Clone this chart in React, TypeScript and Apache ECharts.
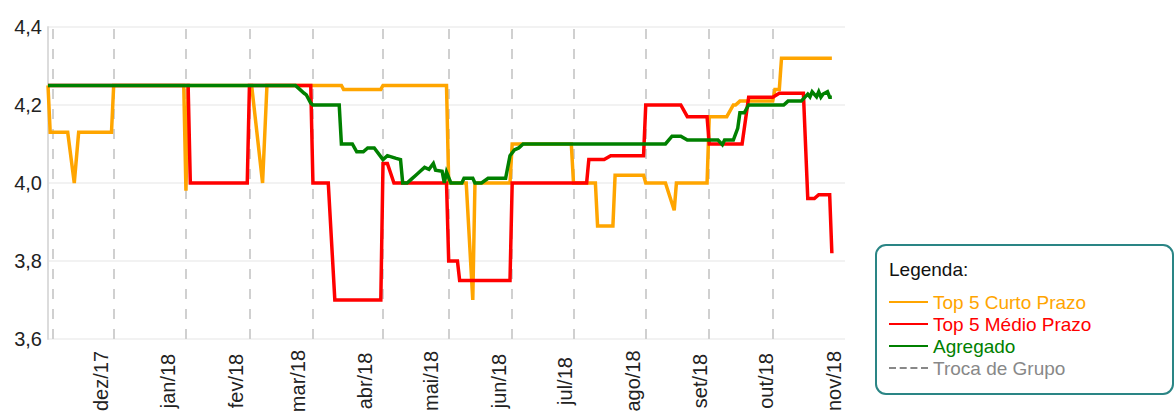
import React, { useEffect, useRef } from 'react';
import * as echarts from 'echarts';

// ---- Data ----
const curtoDates = [
  '2017-11-07', '2017-11-08', '2017-11-16', '2017-11-19', '2017-11-21', '2017-12-06', '2017-12-07',
  '2018-01-08', '2018-01-09', '2018-01-10', '2018-02-08', '2018-02-13', '2018-02-15',
  '2018-03-21', '2018-03-22', '2018-04-08', '2018-04-09', '2018-05-08', '2018-05-09',
  '2018-05-17', '2018-05-20', '2018-05-21', '2018-06-06', '2018-06-07', '2018-07-04',
  '2018-07-05', '2018-07-15', '2018-07-16', '2018-07-23', '2018-07-24', '2018-08-06',
  '2018-08-07', '2018-08-16', '2018-08-20', '2018-08-21', '2018-09-04', '2018-09-05',
  '2018-09-13', '2018-09-16', '2018-09-17', '2018-09-19', '2018-10-04', '2018-10-05',
  '2018-10-07', '2018-10-08', '2018-10-31',
];
const curtoValues = [
  4.25, 4.13, 4.13, 4.0, 4.13, 4.13, 4.25,
  4.25, 3.98, 4.25, 4.25, 4.0, 4.25,
  4.25, 4.24, 4.24, 4.25, 4.25, 4.0,
  4.0, 3.7, 4.0, 4.0, 4.1, 4.1,
  4.0, 4.0, 3.89, 3.89, 4.02, 4.02,
  4.0, 4.0, 3.93, 4.0, 4.0, 4.17,
  4.17, 4.2, 4.2, 4.21, 4.21, 4.24,
  4.24, 4.32, 4.32,
];

const medioDates = [
  '2017-11-07', '2018-01-10', '2018-01-11', '2018-02-06', '2018-02-07', '2018-03-07',
  '2018-03-08', '2018-03-15', '2018-03-18', '2018-04-08', '2018-04-09', '2018-04-11',
  '2018-04-14', '2018-05-08', '2018-05-09', '2018-05-13', '2018-05-14', '2018-06-06',
  '2018-06-07', '2018-07-11', '2018-07-12', '2018-07-19', '2018-07-22', '2018-08-06',
  '2018-08-07', '2018-08-23', '2018-08-26', '2018-09-04', '2018-09-05', '2018-09-20',
  '2018-09-23', '2018-10-04', '2018-10-07', '2018-10-18', '2018-10-20', '2018-10-23',
  '2018-10-25', '2018-10-30', '2018-10-31',
];
const medioValues = [
  4.25, 4.25, 4.0, 4.0, 4.25, 4.25,
  4.0, 4.0, 3.7, 3.7, 4.05, 4.05,
  4.0, 4.0, 3.8, 3.8, 3.75, 3.75,
  4.0, 4.0, 4.06, 4.06, 4.07, 4.07,
  4.2, 4.2, 4.17, 4.17, 4.1, 4.1,
  4.22, 4.22, 4.23, 4.23, 3.96, 3.96,
  3.97, 3.97, 3.82,
];

const agregadoDates = [
  '2017-11-07', '2018-02-28', '2018-03-02', '2018-03-04', '2018-03-05', '2018-03-07',
  '2018-03-08', '2018-03-20', '2018-03-21', '2018-03-26', '2018-03-28', '2018-03-31',
  '2018-04-02', '2018-04-05', '2018-04-09', '2018-04-11', '2018-04-15', '2018-04-17',
  '2018-04-18', '2018-04-20', '2018-04-22', '2018-04-24', '2018-04-26', '2018-04-28',
  '2018-04-30', '2018-05-02', '2018-05-03', '2018-05-06', '2018-05-07', '2018-05-08',
  '2018-05-10', '2018-05-15', '2018-05-16', '2018-05-20', '2018-05-21', '2018-05-24',
  '2018-05-27', '2018-06-04', '2018-06-06', '2018-06-08', '2018-06-10', '2018-06-12',
  '2018-08-16', '2018-08-19', '2018-08-23', '2018-08-26', '2018-09-09', '2018-09-11',
  '2018-09-12', '2018-09-16', '2018-09-18', '2018-09-19', '2018-09-21', '2018-09-23',
  '2018-10-09', '2018-10-11', '2018-10-17', '2018-10-20', '2018-10-21', '2018-10-22',
  '2018-10-24', '2018-10-25', '2018-10-26', '2018-10-27', '2018-10-29', '2018-10-30',
  '2018-10-31',
];
const agregadoValues = [
  4.25, 4.25, 4.24, 4.23, 4.226, 4.205,
  4.2, 4.2, 4.1, 4.1, 4.08, 4.08,
  4.09, 4.09, 4.06, 4.07, 4.063, 4.06,
  4.0, 4.0, 4.01, 4.02, 4.03, 4.04,
  4.035, 4.05, 4.033, 4.03, 4.0, 4.028,
  4.0, 4.0, 4.012, 4.012, 4.0, 4.0,
  4.012, 4.012, 4.07, 4.085, 4.09, 4.1,
  4.1, 4.12, 4.12, 4.11, 4.11, 4.098,
  4.11, 4.11, 4.14, 4.18, 4.18, 4.2,
  4.2, 4.21, 4.21, 4.228, 4.221, 4.234,
  4.221, 4.234, 4.22, 4.228, 4.234, 4.22,
  4.22,
];

const trocaDeGrupoDates = [
  '2017-11-09', '2017-12-07', '2018-01-09', '2018-02-07', '2018-03-08', '2018-04-09',
  '2018-05-09', '2018-06-07', '2018-07-05', '2018-08-07', '2018-09-05', '2018-10-04',
];

const monthTickDates = [
  '2017-12-01', '2018-01-01', '2018-02-01', '2018-03-01', '2018-04-01', '2018-05-01',
  '2018-06-01', '2018-07-01', '2018-08-01', '2018-09-01', '2018-10-01', '2018-11-01',
];
const monthTickLabels = [
  'dez/17', 'jan/18', 'fev/18', 'mar/18', 'abr/18', 'mai/18',
  'jun/18', 'jul/18', 'ago/18', 'set/18', 'out/18', 'nov/18',
];

const yTicks = [3.6, 3.8, 4.0, 4.2, 4.4];
const axisStart = '2017-11-07';
const axisEnd = '2018-11-06';

const seriesNames = ['Top 5 Curto Prazo', 'Top 5 Médio Prazo', 'Agregado', 'Troca de Grupo'];
const seriesColors = ['#FFA500', '#FF0000', '#008000', '#888888'];

// ---- helpers ----
const DAY = 86400000;
const t = (s: string) => {
  const [y, m, d] = s.split('-').map(Number);
  return Date.UTC(y, m - 1, d);
};
const pairs = (ds: string[], vs: number[]) => ds.map((d, i) => [t(d), vs[i]]);
const monthKey = (v: number) => {
  const d = new Date(v + DAY / 2);
  return d.getUTCFullYear() * 12 + d.getUTCMonth();
};

export default function App() {
  const ref = useRef<HTMLDivElement>(null);

  useEffect(() => {
    if (!ref.current) return;
    const chart = echarts.init(ref.current, null, { renderer: 'svg' });
    const labelMap = new Map<number, string>();
    monthTickDates.forEach((d, i) => labelMap.set(monthKey(t(d)), monthTickLabels[i]));

    const axisFont = 'Liberation Sans, Arial, sans-serif';
    const legendFont = 'Liberation Sans, Arial, sans-serif';

    const lineSeries = [
      { dates: curtoDates, values: curtoValues },
      { dates: medioDates, values: medioValues },
      { dates: agregadoDates, values: agregadoValues },
    ].map((s, i) => ({
      name: seriesNames[i],
      type: 'line',
      data: pairs(s.dates, s.values),
      symbol: 'none',
      showSymbol: false,
      z: 3 + i,
      lineStyle: { color: seriesColors[i], width: 3.5, cap: 'butt', join: 'miter' },
      itemStyle: { color: seriesColors[i] },
    }));

    chart.setOption({
      animation: false,
      backgroundColor: '#ffffff',
      grid: { left: 48, right: 331, top: 27, bottom: 77, containLabel: false, outerBoundsMode: 'none' },
      xAxis: {
        type: 'value',
        min: t(axisStart),
        max: t(axisEnd),
        axisLine: { show: false },
        axisTick: { show: false },
        splitLine: { show: false },
        axisLabel: {
          customValues: monthTickDates.map(t),
          formatter: (v: number) => labelMap.get(monthKey(v)) ?? '',
          rotate: 90,
          align: 'center',
          verticalAlign: 'middle',
          margin: 42,
          fontSize: 20,
          color: '#222222',
          fontFamily: axisFont,
          hideOverlap: false,
        },
      },
      yAxis: {
        type: 'value',
        min: yTicks[0],
        max: yTicks[yTicks.length - 1],
        interval: 0.2,
        axisLine: { show: true, lineStyle: { color: '#dcdcdc', width: 2 } },
        axisTick: { show: false },
        splitLine: { show: true, lineStyle: { color: '#f2f2f2', width: 2 } },
        axisLabel: {
          formatter: (v: number) => v.toFixed(1).replace('.', ','),
          fontSize: 20,
          color: '#222222',
          fontFamily: axisFont,
          margin: 6,
        },
      },
      legend: {
        orient: 'vertical',
        left: 889,
        top: 292,
        itemWidth: 39,
        itemHeight: 2,
        itemGap: 2,
        selectedMode: false,
        padding: 0,
        textStyle: { fontSize: 19, lineHeight: 20, fontFamily: legendFont },
        data: seriesNames.map((n, i) => ({
          name: n,
          icon: i === 3
            ? 'path://M0,0h7v2h-7z M10.7,0h7v2h-7z M21.4,0h7v2h-7z M32,0h7v2h-7z'
            : 'rect',
          textStyle: { color: seriesColors[i], fontSize: 19, lineHeight: 20, fontFamily: legendFont },
        })),
      },
      graphic: [
        {
          type: 'rect',
          z: 0,
          shape: { x: 876, y: 245, width: 297, height: 149, r: 10 },
          style: { fill: '#ffffff', stroke: '#2a8585', lineWidth: 2 },
        },
        {
          type: 'text',
          z: 1,
          x: 889,
          y: 269,
          style: {
            text: 'Legenda:',
            fill: '#111111',
            fontSize: 19,
            fontFamily: legendFont,
            verticalAlign: 'middle',
            align: 'left',
          },
        },
      ],
      series: [
        {
          name: seriesNames[3],
          type: 'line',
          data: [],
          symbol: 'none',
          z: 1,
          lineStyle: { color: seriesColors[3], type: 'dashed', width: 2 },
          itemStyle: { color: seriesColors[3] },
          markLine: {
            silent: true,
            z: 1,
            symbol: ['none', 'none'],
            label: { show: false },
            lineStyle: { color: '#d0d0d0', width: 2, type: [10, 10] },
            data: trocaDeGrupoDates.map((d) => ({ xAxis: t(d) })),
          },
        },
        ...lineSeries,
      ],
    });

    return () => chart.dispose();
  }, []);

  return (
    <div
      ref={ref}
      style={{ position: 'absolute', left: 0, top: 0, width: 1176, height: 416, background: '#ffffff' }}
    />
  );
}
